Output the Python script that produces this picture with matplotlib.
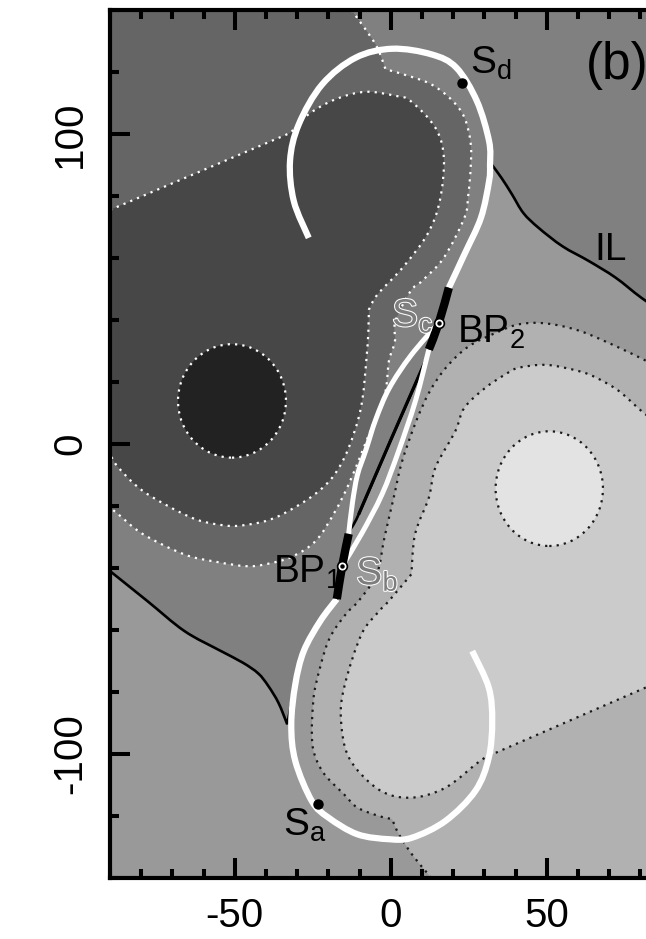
import matplotlib
matplotlib.use("Agg")
import matplotlib.pyplot as plt
import matplotlib.patheffects as pe
from matplotlib.patches import PathPatch, Ellipse
from matplotlib.path import Path
import numpy as np

# plot window (Mm)
x_lim = [-90, 90]
y_lim = [-140, 140]

# grey shades of the flux bands, strongest negative -> strongest positive
band_colors = ["#222222", "#474747", "#656565", "#808080",
               "#999999", "#b1b1b1", "#cbcbcb", "#e3e3e3"]

# contour lines (x, y)
line_a_x = [-90, -32.1, -26.3, -17.7, -8.1, 1.5, 6.4, 14.3, 17.0, 15.7, 11.7, 3.8, -4.2, -7.0,
            -7.6, -10.3, -18.8, -34.8, -48.0, -58.0, -66.2, -79.4, -87.3, -90]
line_a_y = [75.5, 100.4, 106.4, 111.2, 113.6, 112.3, 110.6, 102.0, 92.4, 78.4, 67.6, 56.9, 48.3, 43.4,
            30.0, 8.5, -10.9, -22.7, -26.3, -25.5, -22.7, -15.2, -7.6, -3.3]
line_a_kinks = [1, 13]

line_b_x = [-12.6, -4.9, -1.7, 5.8, 13.0, 19.5, 23.6, 25.6, 25.6, 24.8, 23.6, 17.0, 10.0, 6.4, 1.5,
            1.3, -0.6, -1.7, -4.9, -9.0, -13.5, -18.0, -24.1, -32.0, -40.2, -46.4, -56.0, -66.2,
            -79.4, -87.3, -90]
line_b_y = [140, 128.9, 120.9, 118.7, 116.0, 111.0, 105.3, 97.0, 89.1, 80.0, 73.0, 60.1, 52.6, 49.4,
            39.7, 33.0, 26.8, 17.0, 8.5, -2.0, -13.0, -22.0, -31.3, -36.5, -38.8, -39.4, -38.0, -35.6,
            -29.1, -22.7, -20.5]
line_b_kinks = [2]

line_c_x = [13.0, 11.6, 6.8, 2.6, 0.4, -3.8, -10.7, -15.0, -21.3, -24.5, -25.3, -25.0, -24.0,
            -20.0, -14.5, -10.3, -4.5, -2.0, 1.0, 3.5, 8.0, 12.5, 18.0, 25.0, 34.0, 41.0, 49.6,
            60.5, 73.1, 81.5, 90]
line_c_y = [-140, -138.3, -132.4, -125.9, -121.0, -120.0, -117.3, -113.0, -106.5, -100.0, -93.7,
            -85.0, -77.5, -63.5, -55.0, -50.6, -42.0, -30.0, -17.0, -6.0, 7.0, 17.0, 25.0, 31.5,
            36.0, 38.6, 38.9, 36.5, 31.1, 27.0, 23.0]
line_c_kinks = [4]

line_d_x = [90, 81.6, 73.1, 65.8, 60.3, 50.0, 41.0, 36.8, 30.4, 23.6, 20.7, 14.3, 12.2, 7.8, 6.6,
            -0.5, -3.8, -9.4, -14.7, -16.0, -13.4, -4.0, 6.0, 17.3, 28.5, 32.5, 81.6, 90]
line_d_y = [4.0, 9.6, 17.1, 21.4, 23.5, 25.5, 24.6, 22.5, 18.2, 11.7, 4.2, -7.6, -17.3, -29.0, -42.0,
            -50.5, -54.0, -61.4, -77.5, -88.3, -101.2, -111.4, -114.1, -111.0, -102.3, -100.1,
            -78.6, -74.8]
line_d_kinks = [14, 25]

# polarity inversion line (IL)
il_x = [90, 80.4, 72.0, 63.5, 55.0, 47.4, 42.5, 38.8, 35.5, 32.3, 31.5, 28.9, 23.6, 18.6, 15.4,
        12.2, 11.1, 0.3, -10.3, -13.5, -15.6, -17.3, -22.6, -27.9, -30.6, -33.2, -36.0, -39.3,
        -42.5, -47.5, -55.0, -66.2, -78.1, -90]
il_y = [40.5, 47.1, 53.7, 59.0, 63.8, 69.7, 74.5, 80.6, 85.8, 90.2, 84.8, 73.0, 61.2, 50.4, 39.1,
        30.5, 26.8, 2.0, -22.7, -29.0, -39.4, -50.0, -57.1, -66.8, -77.5, -90.4, -83.5, -78.0,
        -74.0, -70.5, -66.5, -60.3, -50.6, -41.0]
il_kinks = [9, 25]

# flux-rope field lines (white) and bald patches (thick black)
hook_top_x = [-26.3, -31.1, -32.3, -29.5, -22.0, -11.3, 0.4, 13.0, 21.0, 27.6, 31.5, 31.8, 31.5,
              28.9, 23.6, 18.6]
hook_top_y = [66.5, 78.4, 91.3, 103.1, 116.0, 124.6, 127.5, 125.7, 121.4, 110.6, 97.7, 90.0, 84.8,
              73.0, 61.2, 50.4]
lens_left_x = [15.4, 6.4, -0.5, -4.8, -8.0, -10.7, -12.3, -13.5]
lens_left_y = [39.1, 28.5, 18.0, 8.0, -2.0, -10.0, -19.0, -29.0]
lens_right_x = [12.2, 7.9, 2.5, -2.8, -9.4, -15.6]
lens_right_y = [30.5, 13.9, -2.3, -16.2, -29.0, -39.4]
hook_bot_x = [-17.3, -22.6, -27.9, -30.6, -31.9, -30.6, -25.3, -20.0, -10.7, -0.4, 6.8, 17.5,
              27.1, 31.4, 32.5, 31.4, 26.1]
hook_bot_y = [-50.0, -57.1, -66.8, -77.5, -90.4, -102.3, -115.2, -120.5, -125.9, -127.5, -127.0,
              -121.6, -111.9, -101.2, -89.4, -78.6, -66.8]
bp2_x = [18.6, 15.4, 12.2]
bp2_y = [50.4, 39.1, 30.5]
bp1_x = [-13.5, -15.6, -17.3]
bp1_y = [-29.0, -39.4, -50.0]
il_mid_x = [11.1, 0.3, -10.3]
il_mid_y = [26.8, 2.0, -22.7]

# flux cores (x, y, width, height)
neg_core = (-50.9, 13.9, 34.6, 36.6)
pos_core = (50.8, -14.4, 34.4, 37.0)

# footpoints
s_points = [(-23.3, -116.2), (22.9, 116.5)]
bp_points = [(-15.6, -39.4), (15.4, 39.1)]

# labels: text, left x, baseline y
labels = [("S$_\\mathregular{d}$", 25.3, 119.3), ("S$_\\mathregular{a}$", -34.5, -126.5),
          ("BP$_\\mathregular{2}$", 21.3, 32.6), ("BP$_\\mathregular{1}$", -37.8, -44.7),
          ("IL", 65.1, 59.2)]
hollow_labels = [("S$_\\mathregular{c}$", 0.4, 38.0), ("S$_\\mathregular{b}$", -11.1, -45.3)]

plt.rcParams["font.family"] = ["Liberation Sans", "DejaVu Sans"]
plt.rcParams["axes.unicode_minus"] = False

fig = plt.figure(figsize=(6.46, 9.39), dpi=100)
ax = fig.add_axes([110 / 646, 61 / 939, 561.6 / 646, 868 / 939])
ax.set_xlim(x_lim)
ax.set_ylim(y_lim)
ax.set_facecolor(band_colors[4])


def smooth(xs, ys, kinks=()):
    # Catmull-Rom through the traced vertices, drawn as bezier segments
    p = np.column_stack([xs, ys]).astype(float)
    n = len(p)
    verts = [p[0]]
    for i in range(n - 1):
        a = p[i - 1] if (i > 0 and i not in kinks) else p[i]
        d = p[i + 2] if (i + 2 < n and (i + 1) not in kinks) else p[i + 1]
        verts += [p[i] + (p[i + 1] - a) / 6, p[i + 1] - (d - p[i]) / 6, p[i + 1]]
    return verts


def fill(xs, ys, kinks, extra, color, z):
    v = smooth(xs, ys, kinks)
    codes = [Path.MOVETO] + [Path.CURVE4] * (len(v) - 1)
    for c in extra:
        v.append(c)
        codes.append(Path.LINETO)
    v.append(v[0])
    codes.append(Path.CLOSEPOLY)
    ax.add_patch(PathPatch(Path(v, codes), facecolor=color, edgecolor="none", zorder=z))


def curve(xs, ys, kinks=(), **kw):
    v = smooth(xs, ys, kinks)
    codes = [Path.MOVETO] + [Path.CURVE4] * (len(v) - 1)
    ax.add_patch(PathPatch(Path(v, codes), facecolor="none", **kw))


x0, x1 = x_lim
y0, y1 = y_lim
fill(il_x, il_y, il_kinks, [(x0, y1), (x1, y1)], band_colors[3], 0.2)
fill(line_b_x, line_b_y, line_b_kinks, [(x0, y1)], band_colors[2], 0.3)
fill(line_a_x, line_a_y, line_a_kinks, [], band_colors[1], 0.4)
fill(line_c_x, line_c_y, line_c_kinks, [(x1, y0)], band_colors[5], 0.3)
fill(line_d_x, line_d_y, line_d_kinks, [], band_colors[6], 0.4)
dotted = (0, (1, 2.3))
ax.add_patch(Ellipse(neg_core[:2], neg_core[2], neg_core[3], facecolor=band_colors[0],
                     edgecolor="white", lw=1.6, ls=dotted, zorder=0.5))
ax.add_patch(Ellipse(pos_core[:2], pos_core[2], pos_core[3], facecolor=band_colors[7],
                     edgecolor="#1a1a1a", lw=1.6, ls=dotted, zorder=0.5))

curve(line_a_x, line_a_y, line_a_kinks, edgecolor="white", lw=1.6, ls=dotted, zorder=0.6)
curve(line_b_x, line_b_y, line_b_kinks, edgecolor="white", lw=1.6, ls=dotted, zorder=0.6)
curve(line_c_x, line_c_y, line_c_kinks, edgecolor="#1a1a1a", lw=1.6, ls=dotted, zorder=0.6)
curve(line_d_x, line_d_y, line_d_kinks, edgecolor="#1a1a1a", lw=1.6, ls=dotted, zorder=0.6)

# inversion line
curve(il_x, il_y, il_kinks, edgecolor="black", lw=1.9, zorder=2)
curve(il_mid_x, il_mid_y, edgecolor="black", lw=2.3, zorder=2)

# field lines
for xs, ys, w in [(hook_top_x, hook_top_y, 4.5), (hook_bot_x, hook_bot_y, 4.5),
                  (lens_left_x, lens_left_y, 3.6), (lens_right_x, lens_right_y, 3.6)]:
    curve(xs, ys, edgecolor="white", lw=w, capstyle="butt", zorder=3)
curve(bp2_x, bp2_y, edgecolor="black", lw=6, capstyle="butt", zorder=4)
curve(bp1_x, bp1_y, edgecolor="black", lw=6, capstyle="butt", zorder=4)

for px, py in bp_points:
    ax.plot(px, py, "o", ms=7, mfc="white", mec="black", mew=1.2, zorder=5)
    ax.plot(px, py, "o", ms=2.2, color="black", zorder=6)
for px, py in s_points:
    ax.plot(px, py, "o", ms=6.5, color="black", zorder=5)

# labels
lab_font = ["Liberation Sans Narrow", "Liberation Sans", "DejaVu Sans"]
for txt, lx, ly in labels:
    ax.text(lx, ly, txt, fontsize=28, family=lab_font, ha="left", va="baseline", zorder=7)
for txt, lx, ly in hollow_labels:
    t = ax.text(lx, ly, txt, fontsize=28, family=lab_font, color="#7d7d7d",
                ha="left", va="baseline", zorder=7)
    t.set_path_effects([pe.Stroke(linewidth=1.5, foreground="white"), pe.Normal()])

ax.text(62.5, 117.6, "(b)", fontsize=37, ha="left", va="baseline", zorder=7)

# axes styling
ax.set_xticks([-50, 0, 50])
ax.set_xticks(np.arange(-90, 91, 10), minor=True)
ax.set_yticks([-100, 0, 100])
ax.set_yticks(np.arange(-140, 141, 20), minor=True)
ax.set_yticklabels(["-100", "0", "100"], rotation=90, va="center")
ax.tick_params(which="both", direction="in", top=True, right=True, width=2.9,
               labelsize=29, zorder=8)
ax.tick_params(which="major", length=14.4)
ax.tick_params(which="minor", length=6.5)
ax.tick_params(axis="x", pad=14)
ax.tick_params(axis="y", pad=15)
for s in ax.spines.values():
    s.set_linewidth(3)
    s.set_zorder(9)

fig.savefig("out.png", dpi=100)
